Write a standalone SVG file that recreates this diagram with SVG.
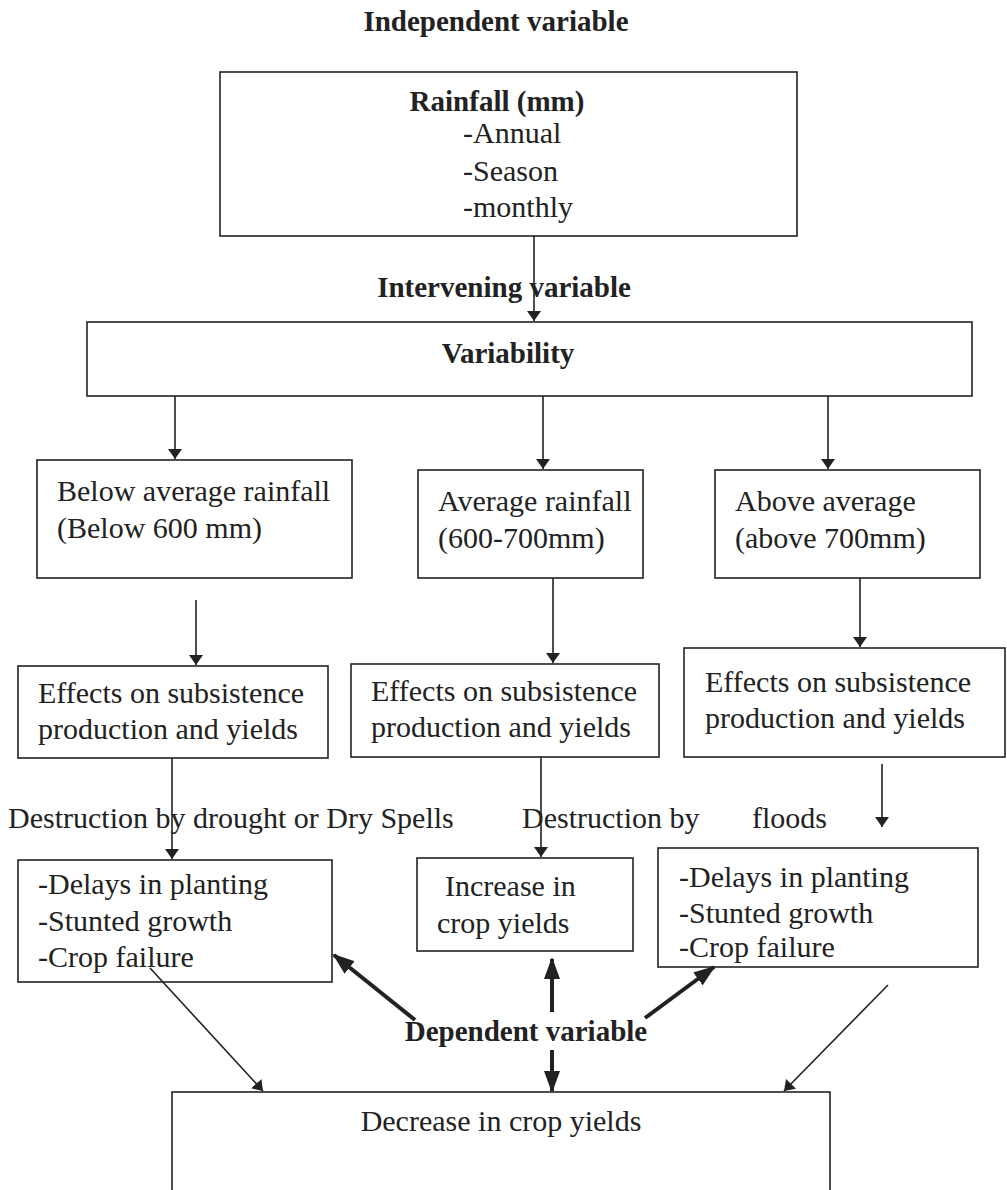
<svg xmlns="http://www.w3.org/2000/svg" width="1007" height="1190" viewBox="0 0 1007 1190">
<style>
.box{fill:#fff;stroke:#222;stroke-width:1.6}
.t{font-family:"Liberation Serif","Times New Roman",serif;font-size:30px;fill:#222}
.b{font-family:"Liberation Serif","Times New Roman",serif;font-size:29px;font-weight:bold;fill:#222}
.c{text-anchor:middle}
.ln{stroke:#222;stroke-width:1.6;fill:none}
.thick{stroke:#222;stroke-width:4;fill:none}
</style>
<defs>
<marker id="ah" markerWidth="10" markerHeight="14" refX="10" refY="7" orient="auto" markerUnits="userSpaceOnUse" viewBox="0 0 10 14">
<path d="M0,0 L10,7 L0,14 z" fill="#222"/>
</marker>
<marker id="ah2" markerWidth="22" markerHeight="16" refX="20" refY="8" orient="auto" markerUnits="userSpaceOnUse" viewBox="0 0 22 16">
<path d="M0,0 L22,8 L0,16 z" fill="#222"/>
</marker>
</defs>
<rect width="1007" height="1190" fill="#fff"/>
<text class="b c" x="496" y="31">Independent variable</text>
<text class="b c" x="504" y="297">Intervening variable</text>
<text class="t" x="8" y="828">Destruction by drought or Dry Spells</text>
<text class="t" x="522" y="828">Destruction by</text>
<text class="t" x="752" y="828">floods</text>
<text class="b c" x="526" y="1041">Dependent variable</text>

<g id="rainfall">
<rect class="box" x="220" y="72" width="577" height="164"/>
<text class="b c" x="497" y="111">Rainfall (mm)</text>
<text class="t" x="463" y="143">-Annual</text>
<text class="t" x="463" y="181">-Season</text>
<text class="t" x="463" y="217">-monthly</text>
</g>
<g id="variability">
<rect class="box" x="87" y="322" width="885" height="74"/>
<text class="b c" x="508" y="363">Variability</text>
</g>
<g id="below">
<rect class="box" x="37" y="460" width="315" height="118"/>
<text class="t" x="57" y="501">Below average rainfall</text>
<text class="t" x="57" y="538">(Below 600 mm)</text>
</g>
<g id="average">
<rect class="box" x="418" y="470" width="225" height="108"/>
<text class="t" x="438" y="511">Average rainfall</text>
<text class="t" x="438" y="548">(600-700mm)</text>
</g>
<g id="above">
<rect class="box" x="715" y="470" width="265" height="108"/>
<text class="t" x="735" y="511">Above average</text>
<text class="t" x="735" y="548">(above 700mm)</text>
</g>
<g id="effects1">
<rect class="box" x="18" y="666" width="310" height="92"/>
<text class="t" x="38" y="703">Effects on subsistence</text>
<text class="t" x="38" y="739">production and yields</text>
</g>
<g id="effects2">
<rect class="box" x="351" y="664" width="308" height="93"/>
<text class="t" x="371" y="701">Effects on subsistence</text>
<text class="t" x="371" y="737">production and yields</text>
</g>
<g id="effects3">
<rect class="box" x="684" y="648" width="321" height="109"/>
<text class="t" x="705" y="692">Effects on subsistence</text>
<text class="t" x="705" y="728">production and yields</text>
</g>
<g id="drought">
<rect class="box" x="18" y="860" width="314" height="122"/>
<text class="t" x="38" y="894">-Delays in planting</text>
<text class="t" x="38" y="931">-Stunted growth</text>
<text class="t" x="38" y="967">-Crop failure</text>
</g>
<g id="increase">
<rect class="box" x="417" y="858" width="216" height="93"/>
<text class="t" x="445" y="896">Increase in</text>
<text class="t" x="437" y="933">crop yields</text>
</g>
<g id="floods">
<rect class="box" x="658" y="848" width="320" height="119"/>
<text class="t" x="679" y="887">-Delays in planting</text>
<text class="t" x="679" y="923">-Stunted growth</text>
<text class="t" x="679" y="957">-Crop failure</text>
</g>
<g id="decrease">
<rect class="box" x="172" y="1092" width="658" height="110"/>
<text class="t c" x="501" y="1131">Decrease in crop yields</text>
</g>

<g id="connectors">
<line class="ln" x1="534" y1="236" x2="534" y2="321" marker-end="url(#ah)"/>
<line class="ln" x1="175" y1="396" x2="175" y2="459" marker-end="url(#ah)"/>
<line class="ln" x1="543" y1="396" x2="543" y2="469" marker-end="url(#ah)"/>
<line class="ln" x1="828" y1="396" x2="828" y2="469" marker-end="url(#ah)"/>
<line class="ln" x1="196" y1="600" x2="196" y2="665" marker-end="url(#ah)"/>
<line class="ln" x1="553" y1="578" x2="553" y2="663" marker-end="url(#ah)"/>
<line class="ln" x1="860" y1="578" x2="860" y2="647" marker-end="url(#ah)"/>
<line class="ln" x1="172" y1="758" x2="172" y2="859" marker-end="url(#ah)"/>
<line class="ln" x1="541" y1="757" x2="541" y2="857" marker-end="url(#ah)"/>
<line class="ln" x1="882" y1="764" x2="882" y2="827" marker-end="url(#ah)"/>
<line class="ln" x1="150" y1="968" x2="263" y2="1091" marker-end="url(#ah)"/>
<line class="ln" x1="888" y1="985" x2="784" y2="1091" marker-end="url(#ah)"/>
<line class="thick" x1="415" y1="1020" x2="334" y2="955" marker-end="url(#ah2)"/>
<line class="thick" x1="552" y1="1012" x2="552" y2="959" marker-end="url(#ah2)"/>
<line class="thick" x1="645" y1="1018" x2="714" y2="967" marker-end="url(#ah2)"/>
<line class="thick" x1="552" y1="1050" x2="552" y2="1091" marker-end="url(#ah2)"/>
</g>
</svg>
